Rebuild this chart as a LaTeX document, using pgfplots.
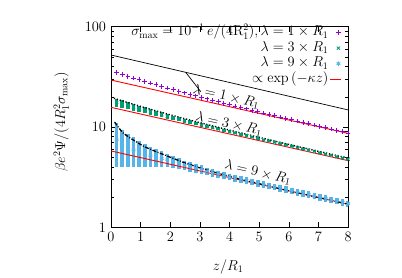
\documentclass[border=0pt]{standalone}
\usepackage{pgfplots}
\usepackage{pgfplotstable}
\pgfplotsset{compat=1.18}
\definecolor{cP}{HTML}{9400D3}
\definecolor{cG}{HTML}{009E73}
\definecolor{cB}{HTML}{56B4E9}
\pgfplotsset{redleg/.style={legend image code/.code={\draw[##1] (0bp,0bp) -- (11bp,0bp);}}}

\pgfplotstableread{
z y
0.19 34.91
0.38 33.46
0.57 32.10
0.76 30.80
0.95 29.59
1.14 28.46
1.33 27.37
1.52 26.35
1.71 25.37
1.90 24.45
2.10 23.53
2.29 22.70
2.48 21.91
2.67 21.15
2.86 20.43
3.05 19.75
3.24 19.09
3.43 18.46
3.62 17.85
3.81 17.27
4.00 16.71
4.19 16.18
4.38 15.67
4.57 15.17
4.76 14.70
4.95 14.25
5.14 13.80
5.33 13.38
5.52 12.96
5.71 12.57
5.90 12.19
6.10 11.80
6.29 11.45
6.48 11.11
6.67 10.78
6.86 10.45
7.05 10.14
7.24 9.84
7.43 9.55
7.62 9.26
7.81 8.99
8.00 8.72
}\dataP

\pgfplotstableread{
z y e
0.19 17.55 1.65
0.38 16.91 1.49
0.57 16.31 1.35
0.76 15.74 1.22
0.95 15.19 1.11
1.14 14.67 1.01
1.33 14.17 0.92
1.52 13.69 0.84
1.71 13.25 0.77
1.90 12.81 0.70
2.10 12.37 0.64
2.29 11.97 0.59
2.48 11.58 0.54
2.67 11.22 0.50
2.86 10.86 0.46
3.05 10.52 0.42
3.24 10.19 0.39
3.43 9.88 0.36
3.62 9.57 0.33
3.81 9.28 0.31
4.00 8.99 0.29
4.19 8.72 0.27
4.38 8.45 0.25
4.57 8.20 0.24
4.76 7.95 0.22
4.95 7.71 0.21
5.14 7.48 0.19
5.33 7.27 0.18
5.52 7.05 0.17
5.71 6.83 0.16
5.90 6.64 0.15
6.10 6.42 0.14
6.29 6.24 0.14
6.48 6.05 0.13
6.67 5.88 0.12
6.86 5.71 0.12
7.05 5.54 0.11
7.24 5.38 0.11
7.43 5.22 0.10
7.62 5.07 0.10
7.81 4.92 0.09
8.00 4.78 0.09
}\dataG

\pgfplotstableread{
z y e
0.19 7.43 3.47
0.38 6.63 2.67
0.57 6.19 2.23
0.76 5.92 1.96
0.95 5.62 1.66
1.14 5.34 1.38
1.33 5.15 1.19
1.52 4.99 1.03
1.71 4.83 0.87
1.90 4.70 0.74
2.10 4.53 0.60
2.29 4.36 0.54
2.48 4.17 0.46
2.67 4.03 0.43
2.86 3.88 0.38
3.05 3.77 0.37
3.24 3.62 0.32
3.43 3.50 0.29
3.62 3.39 0.27
3.81 3.28 0.25
4.00 3.18 0.24
4.19 3.09 0.23
4.38 3.00 0.22
4.57 2.92 0.22
4.76 2.83 0.21
4.95 2.75 0.21
5.14 2.67 0.20
5.33 2.59 0.19
5.52 2.52 0.19
5.71 2.44 0.18
5.90 2.38 0.18
6.10 2.30 0.17
6.29 2.24 0.17
6.48 2.17 0.16
6.67 2.12 0.16
6.86 2.05 0.15
7.05 1.99 0.15
7.24 1.94 0.15
7.43 1.88 0.14
7.62 1.83 0.14
7.81 1.77 0.13
8.00 1.72 0.13
}\dataB

\pgfplotstableread{
z y
0.10 19.35
0.50 17.77
1.00 16.04
1.50 14.54
2.00 13.23
2.50 12.07
3.00 11.04
4.00 9.30
5.00 7.88
6.00 6.70
7.00 5.72
8.00 4.89
}\curveG

\pgfplotstableread{
z y
0.12 11.20
0.19 10.50
0.30 9.50
0.42 8.65
0.60 7.93
0.80 7.26
1.00 6.69
1.13 6.36
1.50 5.71
1.95 5.06
2.47 4.41
3.00 3.91
3.50 3.53
4.00 3.22
4.41 2.99
5.00 2.72
6.00 2.31
7.00 1.98
8.00 1.70
}\curveB

\begin{document}%
\fontsize{14.5}{17}\selectfont%
\begin{tikzpicture}
\path[use as bounding box] (-111bp,-50.7bp) rectangle (291bp,227.3bp);
\begin{axis}[
  ymode=log, scale only axis, width=237.1bp, height=200.6bp,
  xmin=0, xmax=8, ymin=1, ymax=100,
  xtick={0,1,...,8}, ytick={1,10,100}, yticklabels={1,10,100},
  tick align=inside, major tick length=5bp, minor tick length=3bp,
  axis line style={line width=0.8bp},
  every tick/.style={black, line width=0.6bp},
  xlabel={$z/R_1$},
  ylabel={$\beta e^2\Psi/(4R_1^2\sigma_{\max})$},
  xlabel style={at={(axis description cs:0.494,-0.196)}, anchor=center},
  ylabel style={at={(axis description cs:-0.21,0.525)}, anchor=center},
  legend plot pos=right,
  legend cell align=right,
  legend style={at={(axis description cs:0.985,1.02)}, anchor=north east,
    draw=none, fill=none, row sep=0pt,
    nodes={inner sep=1bp, text height=10bp, text depth=3.5bp}},
]
% lambda = 1
\addplot[only marks, mark=+, color=cP, mark size=2.3bp, line width=0.9bp] table[x=z,y=y]{\dataP};
\addlegendentry{$\sigma_{\max}=10^{-1}\,e/(4\mathrm{R}_1^2),\lambda=1\times R_1$}
% lambda = 3
\addplot[only marks, mark=x, color=cG, mark size=2.2bp, line width=0.9bp,
  error bars/.cd, y dir=both, y explicit, error mark=none,
  error bar style={line width=3.6bp, color=cG}]
  table[x=z,y=y,y error=e]{\dataG};
\addlegendentry{$\lambda=3\times R_1$}
% lambda = 9
\addplot[only marks, mark=asterisk, color=cB, mark size=2.2bp, line width=0.9bp,
  error bars/.cd, y dir=both, y explicit, error mark=none,
  error bar style={line width=3.6bp, color=cB}]
  table[x=z,y=y,y error=e]{\dataB};
\addlegendentry{$\lambda=9\times R_1$}
% exponential fits
\addplot[red, line width=0.9bp, redleg] coordinates {(0,29.4) (8,8.64)};
\addlegendentry{$\propto\exp\left(-\kappa z\right)$}
\addplot[red, line width=0.9bp, forget plot] coordinates {(0,15.7) (8,4.62)};
\addplot[red, line width=0.9bp, forget plot] coordinates {(0,5.77) (8,1.70)};
% theory curves
\addplot[black, line width=1.4bp, dash pattern=on 1.2bp off 1.8bp, forget plot] table[x=z,y=y]{\curveG};
\addplot[black, line width=1.3bp, dash pattern=on 4bp off 1.5bp on 1bp off 1.5bp, forget plot] table[x=z,y=y]{\curveB};
% reference line and pointer
\addplot[black, line width=0.7bp, forget plot] coordinates {(0,52.2) (8,14.8)};
\addplot[black, line width=0.7bp, forget plot] coordinates {(2.52,35.1) (3.03,22.5)};
% labels
\node[rotate=-12.5] at (axis cs:3.89,20.1) {$\lambda=1\times R_1$};
\node[rotate=-12.5] at (axis cs:3.98,10.7) {$\lambda=3\times R_1$};
\node[rotate=-12.5] at (axis cs:4.96,3.52) {$\lambda=9\times R_1$};
\end{axis}
\end{tikzpicture}%
\end{document}
